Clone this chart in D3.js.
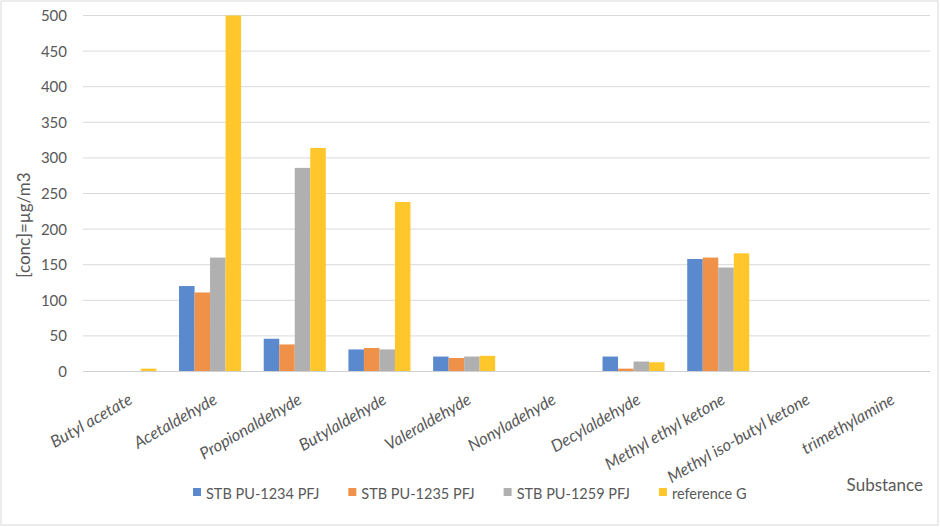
<!DOCTYPE html>
<html>
  <head>
    <meta charset="utf-8">
    <script src="https://d3js.org/d3.v7.min.js"></script>
    <style>
      body { margin: 0; background: #fff; }
      text { font-family: Lato, "Open Sans", sans-serif; fill: #595959; }
    </style>
  </head>
<body>
  <script type="text/javascript">
    // chart data
    var substances = ["Butyl acetate", "Acetaldehyde", "Propionaldehyde",
                      "Butylaldehyde", "Valeraldehyde", "Nonyladehyde",
                      "Decylaldehyde", "Methyl ethyl ketone",
                      "Methyl iso-butyl ketone", "trimethylamine"];
    var seriesNames = ["STB PU-1234 PFJ", "STB PU-1235 PFJ",
                       "STB PU-1259 PFJ", "reference G"];
    var pu1234 = [0, 120, 46, 31, 21, 0, 21, 158, 0, 0];
    var pu1235 = [0, 111, 38, 33, 19, 0, 4, 160, 0, 0];
    var pu1259 = [0, 160, 286, 31, 21, 0, 14, 146, 0, 0];
    var refG   = [4, 500, 314, 238, 22, 0, 13, 166, 0, 0];
    var yTicks = [0, 50, 100, 150, 200, 250, 300, 350, 400, 450, 500];
    var colors = ["#5A8ACD", "#F0914A", "#B0B0B0", "#FFC72C"];

    var values = [pu1234, pu1235, pu1259, refG];
    var W = 940, H = 527;
    var plotL = 83, plotR = 930, plotT = 15.5, plotB = 371.5;

    var svg = d3.select("body").append("svg")
        .attr("width", W)
        .attr("height", H);

    // chart border
    svg.append("rect")
        .attr("x", 1).attr("y", 1)
        .attr("width", 937).attr("height", 524)
        .attr("fill", "none")
        .attr("stroke", "#d9d9d9");

    var x = d3.scaleBand().domain(substances).range([plotL, plotR]);
    var xs = d3.scaleBand().domain(seriesNames)
        .range([0, x.bandwidth()])
        .paddingOuter(0.73);
    var y = d3.scaleLinear().domain([0, 500]).range([plotB, plotT]);

    // gridlines
    svg.append("g")
      .selectAll("line")
      .data(yTicks)
      .join("line")
        .attr("x1", plotL).attr("x2", plotR)
        .attr("y1", function(d) { return y(d); })
        .attr("y2", function(d) { return y(d); })
        .attr("stroke", "#d9d9d9")
        .attr("stroke-width", 1);

    // y tick labels
    svg.append("g")
      .selectAll("text")
      .data(yTicks)
      .join("text")
        .attr("x", 67)
        .attr("y", function(d) { return y(d); })
        .attr("dy", "0.36em")
        .attr("text-anchor", "end")
        .attr("font-size", 15)
        .text(function(d) { return d; });

    // bars
    var groups = svg.append("g")
      .selectAll("g")
      .data(seriesNames)
      .join("g")
        .attr("fill", function(d, i) { return colors[i]; });

    groups.selectAll("rect")
      .data(function(s, i) {
        return substances.map(function(c, j) {
          return {cat: c, series: s, value: values[i][j]};
        });
      })
      .join("rect")
        .attr("x", function(d) { return x(d.cat) + xs(d.series); })
        .attr("width", xs.bandwidth())
        .attr("y", function(d) { return y(d.value); })
        .attr("height", function(d) { return y(0) - y(d.value); });

    // x axis line
    svg.append("line")
        .attr("x1", plotL).attr("x2", plotR)
        .attr("y1", y(0)).attr("y2", y(0))
        .attr("stroke", "#d0d0d0");

    // category labels, rotated
    svg.append("g")
      .selectAll("text")
      .data(substances)
      .join("text")
        .attr("transform", function(d) {
          return "translate(" + (x(d) + x.bandwidth() / 2 + 2) + ",392) rotate(-30)";
        })
        .attr("dy", "0.75em")
        .attr("text-anchor", "end")
        .attr("font-size", 16.5)
        .attr("font-style", "italic")
        .text(function(d) { return d; });

    // axis titles
    svg.append("text")
        .attr("transform", "translate(30,225) rotate(-90)")
        .attr("text-anchor", "middle")
        .attr("font-size", 17)
        .text("[conc]=µg/m3");

    svg.append("text")
        .attr("x", 923).attr("y", 491)
        .attr("text-anchor", "end")
        .attr("font-size", 17)
        .text("Substance");

    // legend
    var legend = svg.append("g");
    var lx = 193;
    seriesNames.forEach(function(s, i) {
      legend.append("rect")
          .attr("x", lx).attr("y", 488)
          .attr("width", 8).attr("height", 8)
          .attr("fill", colors[i]);
      var t = legend.append("text")
          .attr("x", lx + 13).attr("y", 499)
          .attr("font-size", 14.5)
          .text(s);
      lx += 13 + t.node().getComputedTextLength() + 29;
    });
  </script>
</body>
</html>
